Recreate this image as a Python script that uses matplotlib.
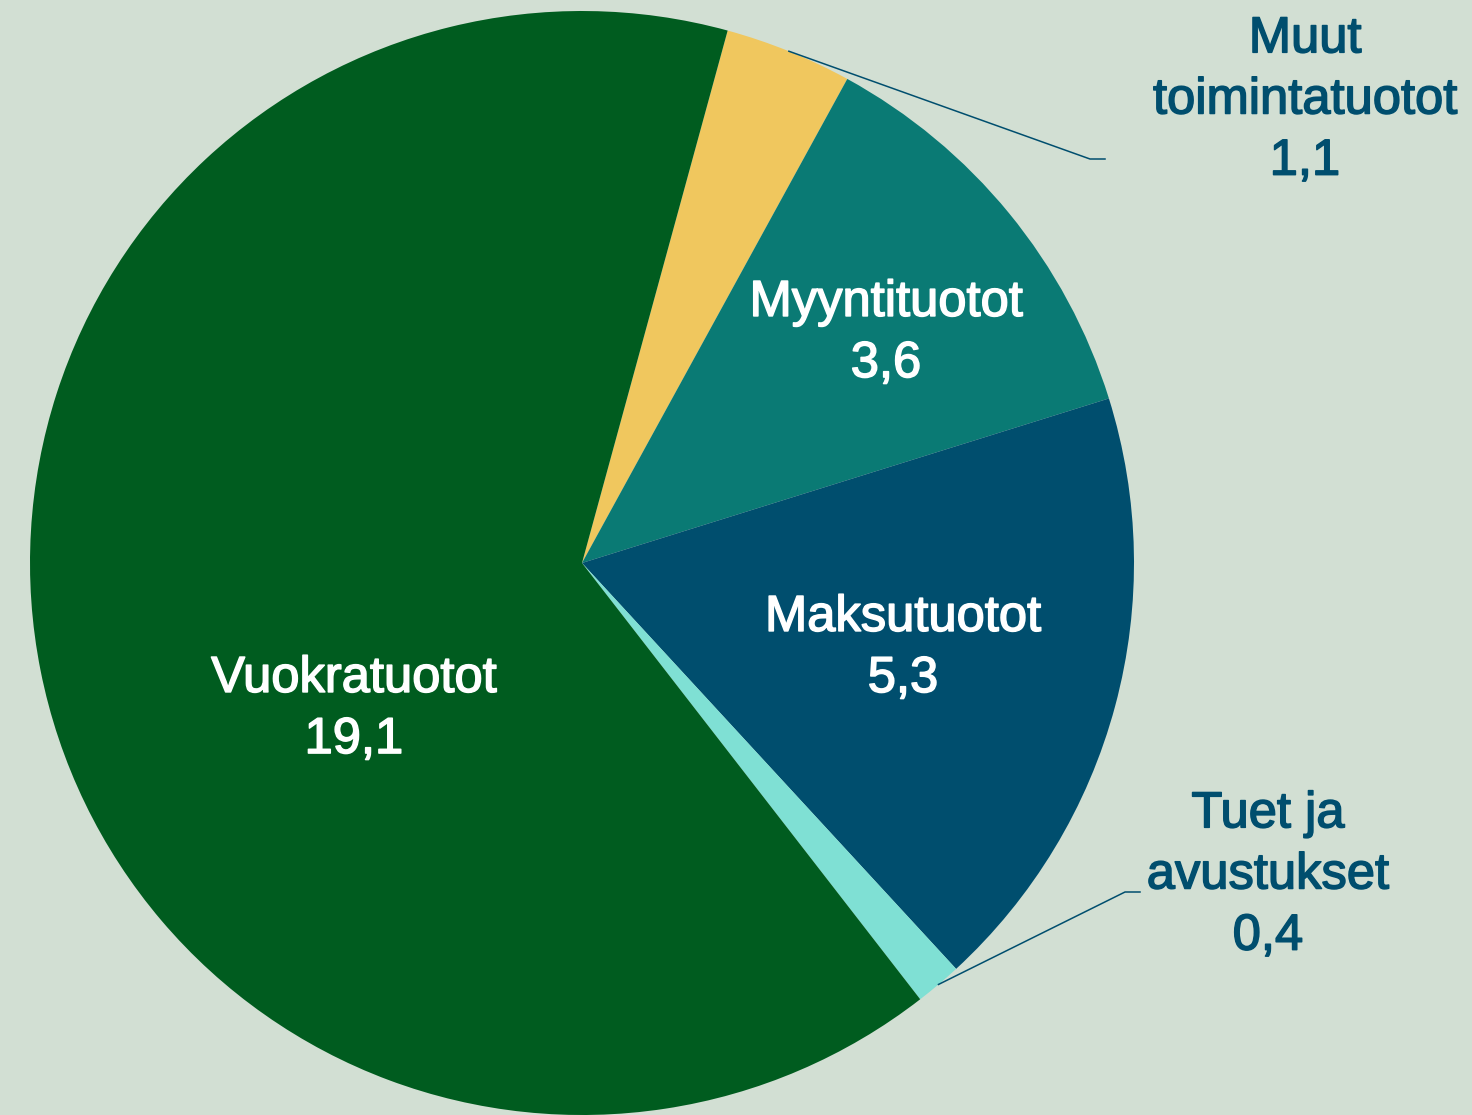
import numpy as np
import matplotlib
matplotlib.use("Agg")
import matplotlib.pyplot as plt
import matplotlib.patheffects as pe

plt.rcParams['font.family'] = ['Liberation Sans', 'DejaVu Sans']

# data (order clockwise from the top)
labels = ['Muut\ntoimintatuotot', 'Myyntituotot', 'Maksutuotot', 'Tuet ja\navustukset', 'Vuokratuotot']
values = [1.1, 3.6, 5.3, 0.4, 19.1]
value_text = ['1,1', '3,6', '5,3', '0,4', '19,1']
colors = ['#f0c75e', '#0a7a74', '#004e6e', '#7fe0d4', '#005c1f']

bg = '#d2dfd3'
dark = '#004e6e'

W, H = 1472, 1115
fig = plt.figure(figsize=(W / 100, H / 100), dpi=100, facecolor=bg)
ax = fig.add_axes([0, 0, 1, 1])
ax.set_facecolor(bg)

cx, cy, r = 582, H - 563, 552
start = 90 - 15.3

wedges, _ = ax.pie(values, colors=colors, startangle=start, counterclock=False,
                   center=(cx, cy), radius=r, wedgeprops=dict(linewidth=0))

ax.set_xlim(0, W)
ax.set_ylim(0, H)
ax.set_aspect('equal')
ax.axis('off')

# label placement: text centre in pixels from top-left, and inside/outside
label_pos = {
    0: (1305, 100, False),
    1: (886, 333, True),
    2: (903, 648, True),
    3: (1268, 875, False),
    4: (354, 709, True),
}

for i, w in enumerate(wedges):
    x, y, inside = label_pos[i]
    txt = labels[i] + '\n' + value_text[i]
    c = 'white' if inside else dark
    ax.text(x, H - y, txt, ha='center', va='center', fontsize=36.5,
            color=c, linespacing=1.32,
            path_effects=[pe.withStroke(linewidth=1.1, foreground=c)])
    if not inside:
        mid = np.deg2rad((w.theta1 + w.theta2) / 2)
        sx, sy = cx + r * np.cos(mid), cy + r * np.sin(mid)
        if i == 0:
            kx, ky, ex = 1090, H - 159, 1105
        else:
            kx, ky, ex = 1125, H - 892, 1140
        ax.plot([sx, kx, ex], [sy, ky, ky], color=dark, lw=1.1)

fig.savefig('out.png', dpi=100, facecolor=bg)
